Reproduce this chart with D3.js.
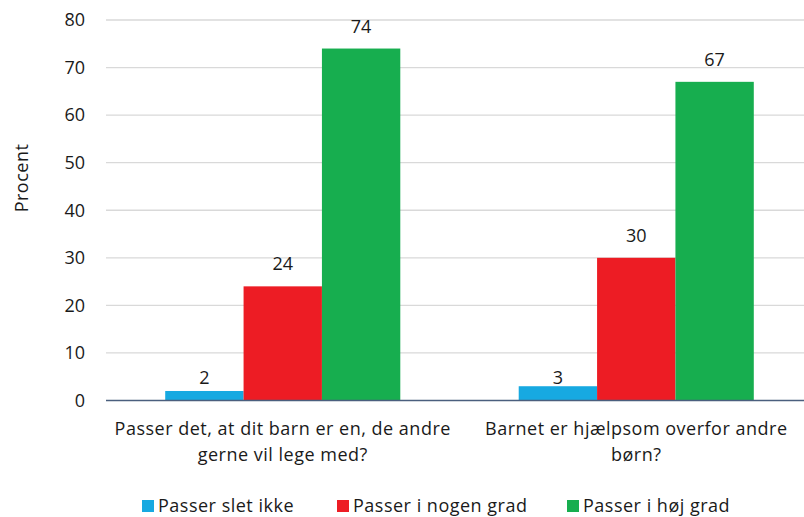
<!DOCTYPE html>
<html><head><meta charset="utf-8">
<script src="https://cdn.jsdelivr.net/npm/d3@7"></script>
<style>body{margin:0;background:#fff}svg{display:block}text{font-family:"Open Sans", Roboto, sans-serif;fill:#1a1a1a}.ls{letter-spacing:0.5px}</style>
</head><body><svg id="c" width="804" height="517"></svg>
<script>
const categories = [["Passer det, at dit barn er en, de andre","gerne vil lege med?"],["Barnet er hjælpsom overfor andre","børn?"]];
const seriesNames = ["Passer slet ikke","Passer i nogen grad","Passer i høj grad"];
const seriesColors = ["#17a9e1","#ed1c24","#17ae4f"];
const values = [[2,24,74],[3,30,67]];
const yTicks = [0,10,20,30,40,50,60,70,80];
const yLabel = "Procent";

const FS = 18;
const svg = d3.select("#c");
const x0 = d3.scaleBand().domain([0,1]).range([106,813]).paddingInner(0.335).paddingOuter(0.1675);
const x1 = d3.scaleBand().domain([0,1,2]).range([0,x0.bandwidth()]);
const y = d3.scaleLinear().domain([0,80]).range([400.5,20]);

// gridlines
svg.append("g").selectAll("line").data(yTicks.filter(t=>t>0)).join("line")
  .attr("x1",106).attr("x2",804).attr("y1",d=>y(d)).attr("y2",d=>y(d))
  .attr("stroke","#d9d9d9").attr("stroke-width",1.3);
// y tick labels
svg.append("g").selectAll("text").data(yTicks).join("text")
  .attr("x",85).attr("y",d=>y(d)).attr("dy","0.35em").attr("text-anchor","end")
  .attr("font-size",FS).text(d=>d);
// y label
svg.append("text").attr("class","ls").attr("transform","translate(28,178) rotate(-90)").attr("text-anchor","middle")
  .attr("font-size",FS).text(yLabel);

// bars
const g = svg.append("g");
values.forEach((vals,ci)=>{
  vals.forEach((v,si)=>{
    const bx = x0(ci)+x1(si);
    g.append("rect").attr("x",bx).attr("y",y(v)).attr("width",x1.bandwidth()).attr("height",y(0)-y(v))
      .attr("fill",seriesColors[si]);
    g.append("text").attr("x",bx+x1.bandwidth()/2).attr("y", v<10 ? y(0)-17 : y(v)-16)
      .attr("text-anchor","middle").attr("font-size",FS).text(v);
  });
});
// baseline
svg.append("line").attr("x1",106).attr("x2",804).attr("y1",y(0)).attr("y2",y(0))
  .attr("stroke","#4a5f7e").attr("stroke-width",1.5);

// category labels
categories.forEach((lines,ci)=>{
  const cx = x0(ci)+x0.bandwidth()/2;
  const t = svg.append("text").attr("class","ls").attr("text-anchor","middle").attr("font-size",FS);
  lines.forEach((l,li)=>t.append("tspan").attr("x",cx).attr("y",435+li*26).text(l));
});

// legend
const legX = [142,337,567];
seriesNames.forEach((n,i)=>{
  svg.append("rect").attr("x",legX[i]).attr("y",500).attr("width",12).attr("height",12).attr("fill",seriesColors[i]);
  svg.append("text").attr("class","ls").attr("x",legX[i]+16).attr("y",512).attr("font-size",FS).text(n);
});
</script></body></html>
